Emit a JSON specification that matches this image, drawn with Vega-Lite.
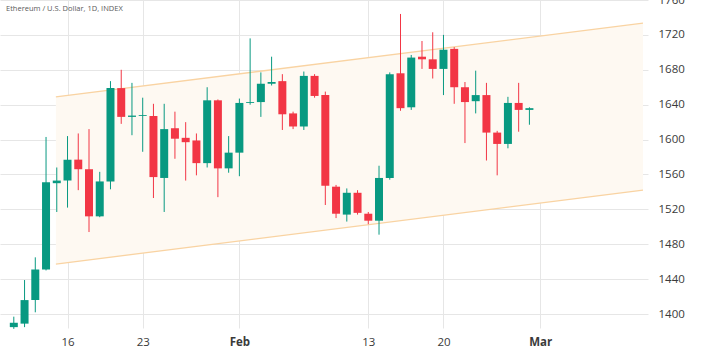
{
  "$schema": "https://vega.github.io/schema/vega-lite/v6.json",
  "width": 648,
  "height": 328,
  "autosize": {"type": "none"},
  "padding": {"left": 0, "top": 0, "right": 71, "bottom": 26},
  "background": "#ffffff",
  "title": {
    "text": "Ethereum / U.S. Dollar, 1D, INDEX",
    "anchor": "start",
    "frame": "group",
    "orient": "top",
    "offset": -18,
    "dx": 6,
    "fontSize": 7.5,
    "fontWeight": "normal",
    "font": "Open Sans",
    "color": "#5a5a5a"
  },
  "config": {
    "view": {"stroke": null},
    "axis": {
      "gridColor": "#e6e6e6",
      "gridWidth": 1,
      "labelFont": "Open Sans",
      "labelFontSize": 11.5,
      "labelColor": "#3a3a3a",
      "domain": false,
      "ticks": false,
      "title": null,
      "labelOverlap": false,
      "labelFlush": false,
      "grid": true
    }
  },
  "datasets": {
    "channel": [
      {"date": "2023-01-14T22:00:00Z", "upper": 1649, "lower": 1457.3},
      {"date": "2023-03-10T13:48:00Z", "upper": 1733.4, "lower": 1542.1}
    ],
    "lines": [
      {"name": "upper", "start": "2023-01-14T22:00:00Z", "end": "2023-03-10T13:48:00Z", "from": 1649, "to": 1733.4},
      {"name": "lower", "start": "2023-01-14T22:00:00Z", "end": "2023-03-10T13:48:00Z", "from": 1457.3, "to": 1542.1}
    ],
    "candles": [
      {"date": "2023-01-11", "open": 1385, "high": 1397, "low": 1383, "close": 1390, "dir": "up"},
      {"date": "2023-01-12", "open": 1389, "high": 1439, "low": 1385, "close": 1416, "dir": "up"},
      {"date": "2023-01-13", "open": 1416, "high": 1465, "low": 1402, "close": 1451, "dir": "up"},
      {"date": "2023-01-14", "open": 1451, "high": 1603, "low": 1450, "close": 1551, "dir": "up"},
      {"date": "2023-01-15", "open": 1550, "high": 1568, "low": 1517, "close": 1553, "dir": "up"},
      {"date": "2023-01-16", "open": 1553, "high": 1604, "low": 1522, "close": 1577, "dir": "up"},
      {"date": "2023-01-17", "open": 1577, "high": 1607, "low": 1542, "close": 1566, "dir": "down"},
      {"date": "2023-01-18", "open": 1566, "high": 1612, "low": 1494, "close": 1512, "dir": "down"},
      {"date": "2023-01-19", "open": 1512, "high": 1563, "low": 1511, "close": 1552, "dir": "up"},
      {"date": "2023-01-20", "open": 1552, "high": 1667, "low": 1543, "close": 1659, "dir": "up"},
      {"date": "2023-01-21", "open": 1659, "high": 1680, "low": 1618, "close": 1626, "dir": "down"},
      {"date": "2023-01-22", "open": 1626, "high": 1665, "low": 1605, "close": 1627.5, "dir": "up"},
      {"date": "2023-01-23", "open": 1627, "high": 1648, "low": 1586, "close": 1628, "dir": "up"},
      {"date": "2023-01-24", "open": 1627, "high": 1641, "low": 1533, "close": 1557, "dir": "down"},
      {"date": "2023-01-25", "open": 1556, "high": 1641, "low": 1517, "close": 1612, "dir": "up"},
      {"date": "2023-01-26", "open": 1613, "high": 1632, "low": 1578, "close": 1601, "dir": "down"},
      {"date": "2023-01-27", "open": 1602, "high": 1620, "low": 1553, "close": 1597, "dir": "down"},
      {"date": "2023-01-28", "open": 1599, "high": 1607, "low": 1559, "close": 1573, "dir": "down"},
      {"date": "2023-01-29", "open": 1573, "high": 1660, "low": 1568, "close": 1645, "dir": "up"},
      {"date": "2023-01-30", "open": 1645, "high": 1646, "low": 1534, "close": 1567, "dir": "down"},
      {"date": "2023-01-31", "open": 1567, "high": 1604, "low": 1562, "close": 1585, "dir": "up"},
      {"date": "2023-02-01", "open": 1585, "high": 1647, "low": 1558, "close": 1642, "dir": "up"},
      {"date": "2023-02-02", "open": 1642, "high": 1716, "low": 1640, "close": 1643, "dir": "up"},
      {"date": "2023-02-03", "open": 1643, "high": 1677, "low": 1626, "close": 1664, "dir": "up"},
      {"date": "2023-02-04", "open": 1664, "high": 1695, "low": 1662, "close": 1666, "dir": "up"},
      {"date": "2023-02-05", "open": 1667, "high": 1675, "low": 1611, "close": 1629, "dir": "down"},
      {"date": "2023-02-06", "open": 1630, "high": 1632, "low": 1612, "close": 1615, "dir": "down"},
      {"date": "2023-02-07", "open": 1615, "high": 1678, "low": 1611, "close": 1673, "dir": "up"},
      {"date": "2023-02-08", "open": 1673, "high": 1675, "low": 1648, "close": 1650, "dir": "down"},
      {"date": "2023-02-09", "open": 1651, "high": 1655, "low": 1525, "close": 1547, "dir": "down"},
      {"date": "2023-02-10", "open": 1546, "high": 1548, "low": 1510, "close": 1515, "dir": "down"},
      {"date": "2023-02-11", "open": 1514, "high": 1544, "low": 1506, "close": 1539, "dir": "up"},
      {"date": "2023-02-12", "open": 1539, "high": 1542, "low": 1514, "close": 1516, "dir": "down"},
      {"date": "2023-02-13", "open": 1515, "high": 1517, "low": 1503, "close": 1507, "dir": "down"},
      {"date": "2023-02-14", "open": 1507, "high": 1570, "low": 1491, "close": 1556, "dir": "up"},
      {"date": "2023-02-15", "open": 1556, "high": 1677, "low": 1554, "close": 1675, "dir": "up"},
      {"date": "2023-02-16", "open": 1676, "high": 1744, "low": 1633, "close": 1636, "dir": "down"},
      {"date": "2023-02-17", "open": 1637, "high": 1697, "low": 1634, "close": 1694, "dir": "up"},
      {"date": "2023-02-18", "open": 1695, "high": 1713, "low": 1681, "close": 1692, "dir": "down"},
      {"date": "2023-02-19", "open": 1692, "high": 1723, "low": 1670, "close": 1681, "dir": "down"},
      {"date": "2023-02-20", "open": 1681, "high": 1720, "low": 1651, "close": 1703, "dir": "up"},
      {"date": "2023-02-21", "open": 1704, "high": 1706, "low": 1641, "close": 1660, "dir": "down"},
      {"date": "2023-02-22", "open": 1660, "high": 1666, "low": 1596, "close": 1643, "dir": "down"},
      {"date": "2023-02-23", "open": 1644, "high": 1679, "low": 1630, "close": 1651, "dir": "up"},
      {"date": "2023-02-24", "open": 1651, "high": 1665, "low": 1576, "close": 1608, "dir": "down"},
      {"date": "2023-02-25", "open": 1608, "high": 1610, "low": 1559, "close": 1595, "dir": "down"},
      {"date": "2023-02-26", "open": 1595, "high": 1649, "low": 1590, "close": 1642, "dir": "up"},
      {"date": "2023-02-27", "open": 1642, "high": 1665, "low": 1609, "close": 1634, "dir": "down"},
      {"date": "2023-02-28", "open": 1634, "high": 1637, "low": 1617, "close": 1636, "dir": "up"}
    ]
  },
  "layer": [
    {
      "data": {"name": "channel"},
      "mark": {"type": "area", "color": "#fef9f2", "opacity": 1},
      "encoding": {
        "x": {
          "field": "date", "type": "temporal", "title": null,
          "scale": {"type": "utc", "domain": [{"year": 2023, "month": 1, "date": 10, "hours": 4, "minutes": 19, "utc": true}, {"year": 2023, "month": 3, "date": 10, "hours": 13, "minutes": 48, "utc": true}]},
          "axis": {"orient": "bottom", "labelPadding": 8, "values": [{"year": 2023, "month": 1, "date": 16, "utc": true}, {"year": 2023, "month": 1, "date": 23, "utc": true}, {"year": 2023, "month": 2, "date": 1, "utc": true}, {"year": 2023, "month": 2, "date": 13, "utc": true}, {"year": 2023, "month": 2, "date": 20, "utc": true}, {"year": 2023, "month": 3, "date": 1, "utc": true}], "labelExpr": "utcdate(datum.value) == 1 ? utcFormat(datum.value, '%b') : utcFormat(datum.value, '%d')", "labelFontWeight": {"condition": {"test": "utcdate(datum.value) == 1", "value": "bold"}, "value": "normal"}}
        },
        "y": {
          "field": "upper", "type": "quantitative", "title": null,
          "scale": {"domain": [1384, 1760], "zero": false, "nice": false},
          "axis": {"orient": "right", "values": [1400, 1440, 1480, 1520, 1560, 1600, 1640, 1680, 1720, 1760], "format": "d", "labelPadding": 10}
        },
        "y2": {"field": "lower"}
      }
    },
    {
      "data": {"name": "lines"},
      "mark": {"type": "rule", "color": "#f9d3a2", "strokeWidth": 1.3},
      "encoding": {
        "x": {"field": "start", "type": "temporal", "title": null,
          "axis": {"orient": "bottom", "labelPadding": 8, "values": [{"year": 2023, "month": 1, "date": 16, "utc": true}, {"year": 2023, "month": 1, "date": 23, "utc": true}, {"year": 2023, "month": 2, "date": 1, "utc": true}, {"year": 2023, "month": 2, "date": 13, "utc": true}, {"year": 2023, "month": 2, "date": 20, "utc": true}, {"year": 2023, "month": 3, "date": 1, "utc": true}], "labelExpr": "utcdate(datum.value) == 1 ? utcFormat(datum.value, '%b') : utcFormat(datum.value, '%d')", "labelFontWeight": {"condition": {"test": "utcdate(datum.value) == 1", "value": "bold"}, "value": "normal"}}},
        "x2": {"field": "end"},
        "y": {"field": "from", "type": "quantitative", "title": null,
          "axis": {"orient": "right", "values": [1400, 1440, 1480, 1520, 1560, 1600, 1640, 1680, 1720, 1760], "format": "d", "labelPadding": 10}},
        "y2": {"field": "to"}
      }
    },
    {
      "data": {"name": "candles"},
      "mark": {"type": "rule", "strokeWidth": 1},
      "encoding": {
        "x": {"field": "date", "type": "temporal", "title": null,
          "axis": {"orient": "bottom", "labelPadding": 8, "values": [{"year": 2023, "month": 1, "date": 16, "utc": true}, {"year": 2023, "month": 1, "date": 23, "utc": true}, {"year": 2023, "month": 2, "date": 1, "utc": true}, {"year": 2023, "month": 2, "date": 13, "utc": true}, {"year": 2023, "month": 2, "date": 20, "utc": true}, {"year": 2023, "month": 3, "date": 1, "utc": true}], "labelExpr": "utcdate(datum.value) == 1 ? utcFormat(datum.value, '%b') : utcFormat(datum.value, '%d')", "labelFontWeight": {"condition": {"test": "utcdate(datum.value) == 1", "value": "bold"}, "value": "normal"}}},
        "y": {"field": "low", "type": "quantitative", "title": null,
          "axis": {"orient": "right", "values": [1400, 1440, 1480, 1520, 1560, 1600, 1640, 1680, 1720, 1760], "format": "d", "labelPadding": 10}},
        "y2": {"field": "high"},
        "color": {"field": "dir", "type": "nominal", "scale": {"domain": ["up", "down"], "range": ["#089981", "#f23645"]}, "legend": null}
      }
    },
    {
      "data": {"name": "candles"},
      "mark": {"type": "bar", "size": 8},
      "encoding": {
        "x": {"field": "date", "type": "temporal", "title": null,
          "axis": {"orient": "bottom", "labelPadding": 8, "values": [{"year": 2023, "month": 1, "date": 16, "utc": true}, {"year": 2023, "month": 1, "date": 23, "utc": true}, {"year": 2023, "month": 2, "date": 1, "utc": true}, {"year": 2023, "month": 2, "date": 13, "utc": true}, {"year": 2023, "month": 2, "date": 20, "utc": true}, {"year": 2023, "month": 3, "date": 1, "utc": true}], "labelExpr": "utcdate(datum.value) == 1 ? utcFormat(datum.value, '%b') : utcFormat(datum.value, '%d')", "labelFontWeight": {"condition": {"test": "utcdate(datum.value) == 1", "value": "bold"}, "value": "normal"}}},
        "y": {"field": "open", "type": "quantitative", "title": null,
          "axis": {"orient": "right", "values": [1400, 1440, 1480, 1520, 1560, 1600, 1640, 1680, 1720, 1760], "format": "d", "labelPadding": 10}},
        "y2": {"field": "close"},
        "color": {"field": "dir", "type": "nominal", "scale": {"domain": ["up", "down"], "range": ["#089981", "#f23645"]}, "legend": null}
      }
    }
  ]
}
